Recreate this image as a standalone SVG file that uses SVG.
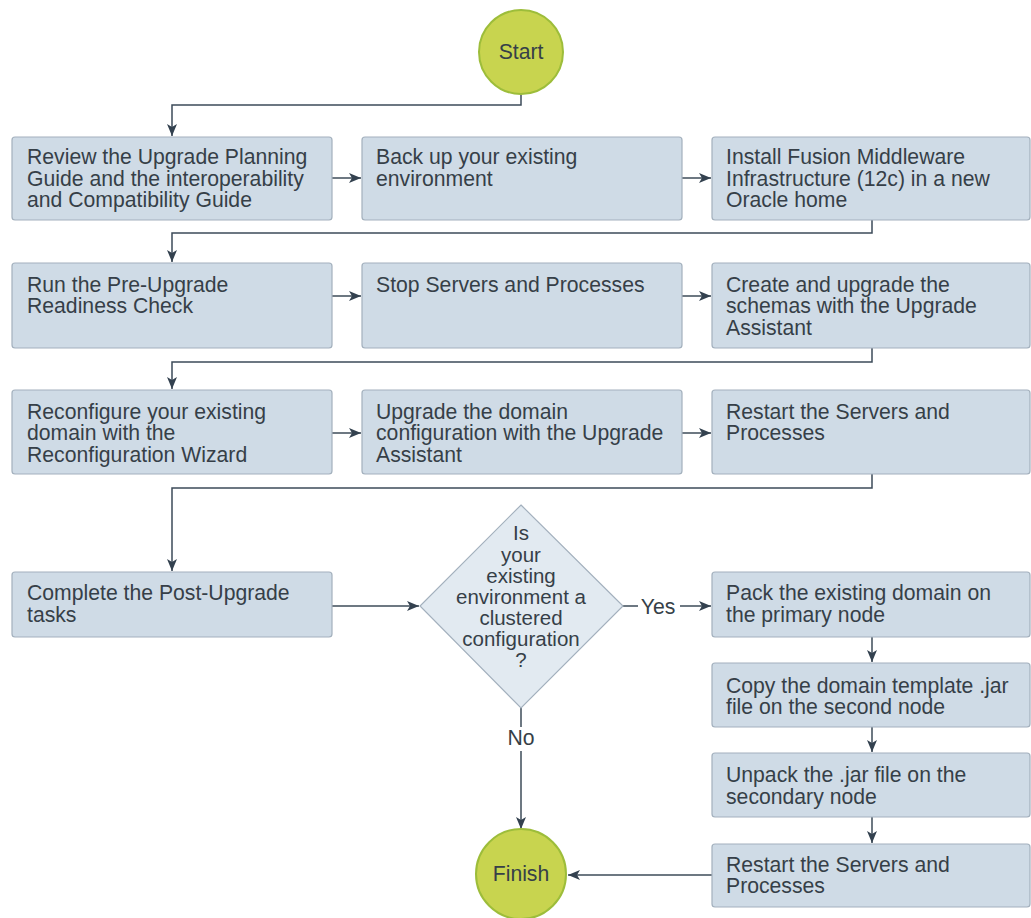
<svg xmlns="http://www.w3.org/2000/svg" width="1031" height="918" viewBox="0 0 1031 918">
<defs>
<marker id="arr" viewBox="0 0 12 10" refX="12" refY="5" markerWidth="12" markerHeight="10" markerUnits="userSpaceOnUse" orient="auto">
<path d="M0,0 L12,5 L0,10 L3,5 Z" fill="#33414f"/>
</marker>
<style>
.box{fill:#cfdbe6;stroke:#a3b0bd;stroke-width:1.2}
.dia{fill:#e2eaf1;stroke:#a3b0bd;stroke-width:1.2}
.term{fill:#c8d44f;stroke:#9dbd3a;stroke-width:2}
.t{font-family:"Liberation Sans",Arial,sans-serif;font-size:21.2px;fill:#363f48}
.d{font-size:20.5px}
.c{text-anchor:middle}
.ln{fill:none;stroke:#3d4b59;stroke-width:1.5}
</style>
</defs>
<rect width="1031" height="918" fill="#ffffff"/>
<g id="connectors">
<path class="ln" d="M521,95 V105 H172 V136" marker-end="url(#arr)"/>
<path class="ln" d="M332,178 H361" marker-end="url(#arr)"/>
<path class="ln" d="M682,178 H711" marker-end="url(#arr)"/>
<path class="ln" d="M872,220 V233 H172 V262" marker-end="url(#arr)"/>
<path class="ln" d="M332,296 H361" marker-end="url(#arr)"/>
<path class="ln" d="M682,296 H711" marker-end="url(#arr)"/>
<path class="ln" d="M872,348 V362 H172 V389" marker-end="url(#arr)"/>
<path class="ln" d="M332,433 H361" marker-end="url(#arr)"/>
<path class="ln" d="M682,433 H711" marker-end="url(#arr)"/>
<path class="ln" d="M872,474 V488 H172 V571" marker-end="url(#arr)"/>
<path class="ln" d="M332,606 H419" marker-end="url(#arr)"/>
<path class="ln" d="M623,606 H638"/>
<path class="ln" d="M680,606 H711" marker-end="url(#arr)"/>
<path class="ln" d="M872,637 V662" marker-end="url(#arr)"/>
<path class="ln" d="M872,727 V752" marker-end="url(#arr)"/>
<path class="ln" d="M872,817 V843" marker-end="url(#arr)"/>
<path class="ln" d="M712,875 H568" marker-end="url(#arr)"/>
<path class="ln" d="M521,708 V727"/>
<path class="ln" d="M521,751 V829" marker-end="url(#arr)"/>
<text class="t c" x="658" y="614">Yes</text>
<text class="t c" x="521" y="745">No</text>
</g>
<g id="start">
<circle class="term" cx="521" cy="52" r="42"/>
<text class="t c" x="521" y="59">Start</text>
</g>
<g id="review">
<rect class="box" x="12" y="137" width="320" height="83" rx="3"/>
<text class="t" x="27" y="164">Review the Upgrade Planning</text>
<text class="t" x="27" y="186">Guide and the interoperability</text>
<text class="t" x="27" y="207">and Compatibility Guide</text>
</g>
<g id="backup">
<rect class="box" x="362" y="137" width="320" height="83" rx="3"/>
<text class="t" x="376" y="164">Back up your existing</text>
<text class="t" x="376" y="186">environment</text>
</g>
<g id="install">
<rect class="box" x="712" y="137" width="318" height="83" rx="3"/>
<text class="t" x="726" y="164">Install Fusion Middleware</text>
<text class="t" x="726" y="186">Infrastructure (12c) in a new</text>
<text class="t" x="726" y="207">Oracle home</text>
</g>
<g id="preupgrade">
<rect class="box" x="12" y="263" width="320" height="85" rx="3"/>
<text class="t" x="27" y="292">Run the Pre-Upgrade</text>
<text class="t" x="27" y="313">Readiness Check</text>
</g>
<g id="stop">
<rect class="box" x="362" y="263" width="320" height="85" rx="3"/>
<text class="t" x="376" y="292">Stop Servers and Processes</text>
</g>
<g id="schemas">
<rect class="box" x="712" y="263" width="318" height="85" rx="3"/>
<text class="t" x="726" y="292">Create and upgrade the</text>
<text class="t" x="726" y="313">schemas with the Upgrade</text>
<text class="t" x="726" y="335">Assistant</text>
</g>
<g id="reconfigure">
<rect class="box" x="12" y="390" width="320" height="84" rx="3"/>
<text class="t" x="27" y="419">Reconfigure your existing</text>
<text class="t" x="27" y="440">domain with the</text>
<text class="t" x="27" y="462">Reconfiguration Wizard</text>
</g>
<g id="upgradedomain">
<rect class="box" x="362" y="390" width="320" height="84" rx="3"/>
<text class="t" x="376" y="419">Upgrade the domain</text>
<text class="t" x="376" y="440">configuration with the Upgrade</text>
<text class="t" x="376" y="462">Assistant</text>
</g>
<g id="restart1">
<rect class="box" x="712" y="390" width="318" height="84" rx="3"/>
<text class="t" x="726" y="419">Restart the Servers and</text>
<text class="t" x="726" y="440">Processes</text>
</g>
<g id="postupgrade">
<rect class="box" x="12" y="572" width="320" height="65" rx="3"/>
<text class="t" x="27" y="600">Complete the Post-Upgrade</text>
<text class="t" x="27" y="622">tasks</text>
</g>
<g id="decision">
<polygon class="dia" points="521,505 623,606 521,708 420,606"/>
<text class="t d c" x="521" y="540">Is</text>
<text class="t d c" x="521" y="562">your</text>
<text class="t d c" x="521" y="583">existing</text>
<text class="t d c" x="521" y="604">environment a</text>
<text class="t d c" x="521" y="625">clustered</text>
<text class="t d c" x="521" y="646">configuration</text>
<text class="t d c" x="521" y="667">?</text>
</g>
<g id="pack">
<rect class="box" x="712" y="572" width="318" height="65" rx="3"/>
<text class="t" x="726" y="600">Pack the existing domain on</text>
<text class="t" x="726" y="622">the primary node</text>
</g>
<g id="copy">
<rect class="box" x="712" y="663" width="318" height="64" rx="3"/>
<text class="t" x="726" y="693">Copy the domain template .jar</text>
<text class="t" x="726" y="714">file on the second node</text>
</g>
<g id="unpack">
<rect class="box" x="712" y="753" width="318" height="64" rx="3"/>
<text class="t" x="726" y="782">Unpack the .jar file on the</text>
<text class="t" x="726" y="804">secondary node</text>
</g>
<g id="restart2">
<rect class="box" x="712" y="844" width="318" height="63" rx="3"/>
<text class="t" x="726" y="872">Restart the Servers and</text>
<text class="t" x="726" y="893">Processes</text>
</g>
<g id="finish">
<circle class="term" cx="521" cy="874" r="45"/>
<text class="t c" x="521" y="881">Finish</text>
</g>
</svg>
